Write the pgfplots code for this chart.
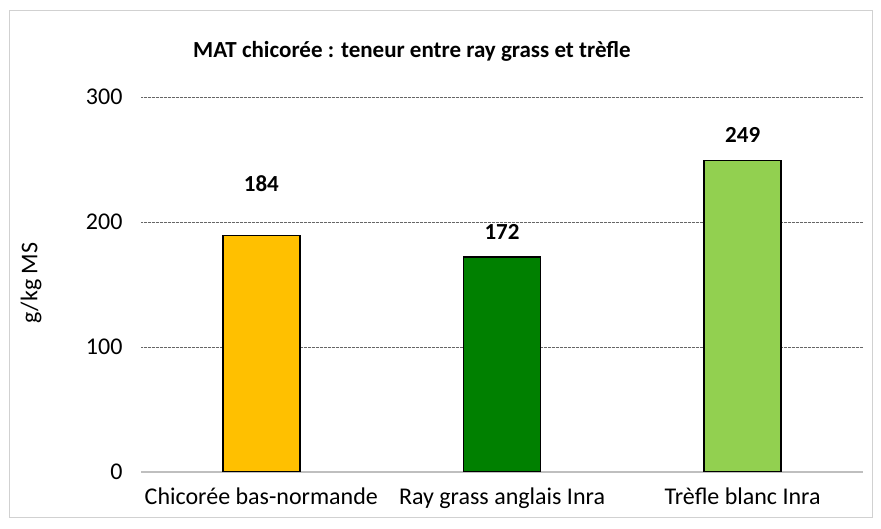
\documentclass[border=0pt]{standalone}
\usepackage{fontspec}
\setmainfont{Carlito}
\usepackage{pgfplots}
\pgfplotsset{compat=1.18}
\definecolor{cOr}{HTML}{FFC000}
\definecolor{cGr}{HTML}{008000}
\definecolor{cLg}{HTML}{92D050}
\begin{document}
\begin{tikzpicture}[x=1pt,y=1pt]
\path[use as bounding box] (0,0) rectangle (881,529);
\draw[black!18, line width=1pt] (9,11) rectangle (872,518);
\node[font=\fontsize{23}{27}\selectfont\bfseries] at (412,478) {MAT chicorée : teneur entre ray grass et trèfle};
\node[font=\fontsize{24}{28}\selectfont, rotate=90] at (31,246) {g/kg MS};
\begin{axis}[
  at={(141pt,57pt)}, anchor=south west,
  scale only axis, width=722pt, height=375pt,
  xmin=-0.5, xmax=2.5, ymin=0, ymax=300,
  ytick={100,200,300},
  extra y ticks={0},
  extra y tick style={grid=none},
  xtick={0,1,2},
  xticklabels={Chicorée bas-normande, Ray grass anglais Inra, Trèfle blanc Inra},
  axis x line*=bottom, axis y line*=left,
  y axis line style={draw=none},
  x axis line style={black!25, line width=1.2pt},
  tick style={draw=none},
  ymajorgrids,
  grid style={black!60, dash pattern=on 1.5pt off 1pt on 0.5pt off 1pt, line width=0.8pt},
  tick label style={font=\fontsize{24}{28}\selectfont},
  /pgf/number format/assume math mode=true,
  yticklabel style={xshift=-15pt},
  xticklabel style={yshift=-12pt},
  nodes near coords style={font=\fontsize{23}{27}\selectfont\bfseries, anchor=center},
]
\addplot[ybar, bar width=77pt, bar shift=0pt, fill=cOr, draw=black, line width=1.4pt] coordinates {(0,189)};
\addplot[ybar, bar width=77pt, bar shift=0pt, fill=cGr, draw=black, line width=1.4pt] coordinates {(1,172)};
\addplot[ybar, bar width=77pt, bar shift=0pt, fill=cLg, draw=black, line width=1.4pt] coordinates {(2,249)};
\addplot[draw=none, mark=none, nodes near coords, point meta=explicit symbolic] table[meta=lab] {
x y lab
0 231 184
1 192 172
2 270 249
};
\end{axis}
\end{tikzpicture}
\end{document}
